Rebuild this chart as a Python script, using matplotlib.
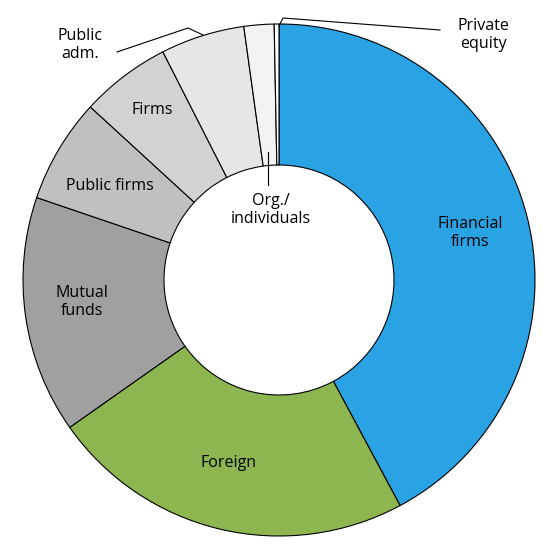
import matplotlib.pyplot as plt

labels = ['Financial\nfirms', 'Foreign', 'Mutual\nfunds', 'Public firms', 'Firms',
          'Public\nadm.', 'Org./\nindividuals', 'Private\nequity']
shares = [42.2, 23.1, 15.0, 6.6, 5.7, 5.3, 1.9, 0.3]
colors = ['#29a3e3', '#8db650', '#a0a0a0', '#c0c0c0', '#d2d2d2', '#e6e6e6', '#f3f3f3', '#ffffff']

plt.rcParams['font.family'] = ['Open Sans', 'DejaVu Sans']

fig = plt.figure(figsize=(5.6, 5.6), dpi=100)
ax = fig.add_axes([0, 0, 1, 1])
R = 256
ax.pie(shares, colors=colors, startangle=90, counterclock=False, radius=R,
       wedgeprops=dict(width=R - 115, edgecolor='black', linewidth=0.8))
ax.set_xlim(-279, 281)
ax.set_ylim(-280, 280)
ax.set_aspect('equal')
ax.axis('off')


def px(x, y):
    return x - 279, 280 - y


fs = 11.5
inner = [(labels[0], 470, 233), (labels[1], 229, 463), (labels[2], 82, 302),
         (labels[3], 110, 186), (labels[4], 152, 110), (labels[6], 271, 210)]
for text, x, y in inner:
    ax.text(*px(x, y), text, ha='center', va='center', fontsize=fs, linespacing=1.1)

ax.text(*px(80, 45), labels[5], ha='center', va='center', fontsize=fs, linespacing=1.1)
ax.plot(*zip(px(117, 52), px(188, 28), px(203, 35)), color='black', lw=0.8)
ax.text(*px(483, 35), labels[7], ha='center', va='center', fontsize=fs, linespacing=1.1)
ax.plot(*zip(px(440, 30), px(283, 18), px(279, 26)), color='black', lw=0.8)
ax.plot(*zip(px(268, 185), px(268, 152)), color='black', lw=0.8)

fig.savefig('out.png', dpi=100)
